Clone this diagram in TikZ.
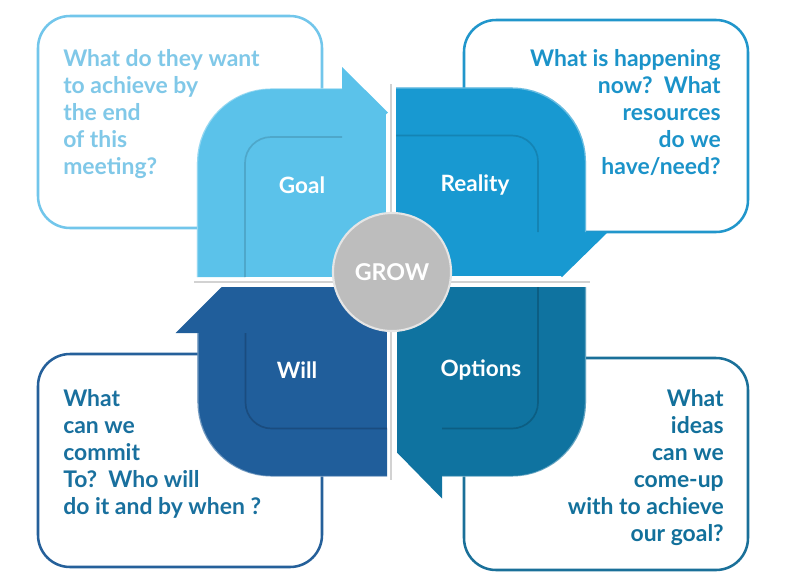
\documentclass[tikz,border=0pt]{standalone}
\usepackage{fontspec}
\setmainfont{Lato}
\definecolor{goalblue}{HTML}{5BC2EA}
\definecolor{realblue}{HTML}{1899D1}
\definecolor{willblue}{HTML}{205E9B}
\definecolor{optblue}{HTML}{0F73A0}
\definecolor{growgray}{HTML}{BDBDBD}
\definecolor{goalline}{HTML}{72C6EB}
\definecolor{realline}{HTML}{2196CB}
\definecolor{willline}{HTML}{25609A}
\definecolor{optline}{HTML}{1A7099}
\definecolor{goalink}{HTML}{80C8E8}
\definecolor{realink}{HTML}{1B93C9}
\definecolor{willink}{HTML}{19709E}
\definecolor{optink}{HTML}{12709B}
\begin{document}
\begin{tikzpicture}[x=0.025cm, y=-0.025cm,
    band/.style={line width=1.2cm, rounded corners=1.25cm},
    qbox/.style={fill=white, line width=1.8pt, rounded corners=0.8cm},
    qtext/.style={inner sep=0pt, font=\bfseries\fontsize{16.3}{19.2}\selectfont},
    qlabel/.style={text=white, inner sep=0pt, font=\bfseries\fontsize{16}{18}\selectfont},
    inedge/.style={line width=1.2pt, opacity=0.45, rounded corners=0.65cm},
    outedge/.style={white, line width=1pt, opacity=0.35, rounded corners=1.85cm}]
    \useasboundingbox (0,0) rectangle (791,587);

    % Question boxes
    \draw[qbox, draw=goalline] (38,16) rectangle (322,228);
    \draw[qbox, draw=realline] (464,20) rectangle (748,232);
    \draw[qbox, draw=willline] (38,354) rectangle (322,567);
    \draw[qbox, draw=optline] (464,358) rectangle (748,570);
    \node[qtext, text=goalink, anchor=north west, align=left] (G_text) at (63,49)
        {What do they want\\to achieve by\\the end\\of this\\meeting?};
    \node[qtext, text=realink, anchor=north east, align=right] (R_text) at (721,49)
        {What is happening\\now?\ \ What\\resources\\do we\\have/need?};
    \node[qtext, text=willink, anchor=north west, align=left] (W_text) at (63,389)
        {What\\can we\\commit\\To?\ \ Who will\\do it and by when ?};
    \node[qtext, text=optink, anchor=north east, align=right] (O_text) at (724,389)
        {What\\ideas\\can we\\come-up\\with to achieve\\our goal?};

    % gaps between the quarters
    \draw[gray!35, line width=2pt] (391,84) -- (391,480);
    \draw[gray!35, line width=2pt] (194,282) -- (590,282);

    % Goal
    \fill[goalblue] (221,112.5) rectangle (386,277);
    \draw[band, goalblue] (221,277) |- (342,112.5);
    \fill[goalblue] (342,67) -- (388,112.5) -- (342,158) -- cycle;
    \draw[inedge, goalblue!70!black] (245,277) |- (342,137);
    \draw[outedge] (197.5,277) |- (342,88.5);
    % Reality
    \fill[realblue] (396,111.5) rectangle (562,276);
    \draw[band, realblue] (396,111.5) -| (562,232);
    \fill[realblue] (516,232) -- (562,277) -- (608,232) -- cycle;
    \draw[inedge, realblue!70!black] (396,135.5) -| (538,232);
    \draw[outedge] (396,88) -| (585.5,232);
    % Will
    \fill[willblue] (221.5,287) rectangle (387,452.5);
    \draw[band, willblue] (387,452.5) -| (221.5,333);
    \fill[willblue] (175.5,333) -- (221.5,287) -- (267.5,333) -- cycle;
    \draw[inedge, willblue!60!black] (387,428.5) -| (245.5,333);
    \draw[outedge] (387,476.5) -| (198,333);
    % Options
    \fill[optblue] (397,287) rectangle (562,452.5);
    \draw[band, optblue] (562,287) |- (442,452.5);
    \fill[optblue] (442,406.5) -- (397,452.5) -- (442,498.5) -- cycle;
    \draw[inedge, optblue!60!black] (538,287) |- (442,428.5);
    \draw[outedge] (585.5,287) |- (442,476.5);

    % GROW in the middle
    \node[circle, fill=growgray, draw=gray!20, line width=1.5pt, minimum size=2.95cm,
        text=white, font=\bfseries\fontsize{16.5}{18}\selectfont] (grow) at (392,272) {GROW};

    \node[qlabel] (G_label) at (302,185) {Goal};
    \node[qlabel] (R_label) at (475,185) {Reality};
    \node[qlabel] (W_label) at (297,370) {Will};
    \node[qlabel] (O_label) at (481,370) {Options};
\end{tikzpicture}
\end{document}
